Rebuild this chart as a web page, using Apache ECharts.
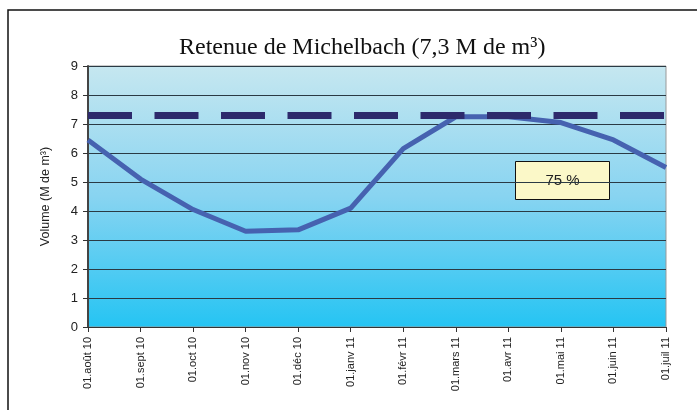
<!DOCTYPE html>
<html>
<head>
<meta charset="utf-8">
<script src="https://cdn.jsdelivr.net/npm/echarts@6/dist/echarts.min.js"></script>
<style>
  html, body { margin: 0; padding: 0; background: #fff; }
  #chart { width: 697px; height: 410px; }
</style>
</head>
<body>
<div id="chart"></div>
<script>
// dates (1st of each month)
const categories = ['01.août 10', '01.sept 10', '01.oct 10', '01.nov 10', '01.déc 10', '01.janv 11',
  '01.févr 11', '01.mars 11', '01.avr 11', '01.mai 11', '01.juin 11', '01.juil 11'];
// volume in M de m3
const volume = [6.45, 5.1, 4.05, 3.3, 3.35, 4.1, 6.15, 7.25, 7.25, 7.05, 6.45, 5.5];
const capacity = 7.3;
const fillLabel = '75 %';
const yTicks = [0, 1, 2, 3, 4, 5, 6, 7, 8, 9];

const chart = echarts.init(document.getElementById('chart'));

chart.setOption({
  animation: false,
  title: {
    text: 'Retenue de Michelbach (7,3 M de m³)',
    left: 174,
    top: 31,
    textStyle: { fontFamily: 'Liberation Serif', fontSize: 24, fontWeight: 'normal', color: '#111' }
  },
  grid: {
    left: 88, right: 31, top: 66, bottom: 83,
    show: true,
    borderColor: '#999',
    borderWidth: 1,
    backgroundColor: new echarts.graphic.LinearGradient(0, 0, 0, 1, [
      { offset: 0, color: '#c6e7f0' },
      { offset: 0.5, color: '#88d4f1' },
      { offset: 1, color: '#25c4f3' }
    ])
  },
  xAxis: {
    type: 'category',
    data: categories,
    boundaryGap: false,
    axisLine: { lineStyle: { color: '#333', width: 1 } },
    axisTick: { alignWithLabel: true, length: 5, lineStyle: { color: '#333' } },
    axisLabel: {
      rotate: 90, interval: 0, margin: 10,
      fontFamily: 'Liberation Sans', fontSize: 11, color: '#222'
    }
  },
  yAxis: {
    type: 'value',
    min: yTicks[0], max: yTicks[yTicks.length - 1], interval: 1,
    name: 'Volume (M de m³)',
    nameLocation: 'middle',
    nameRotate: 90,
    nameGap: 36,
    nameTextStyle: { fontFamily: 'Liberation Sans', fontSize: 12.5, color: '#222' },
    axisLine: { show: true, lineStyle: { color: '#444', width: 2 } },
    axisTick: { show: true, length: 5, lineStyle: { color: '#333' } },
    axisLabel: { fontFamily: 'Liberation Sans', fontSize: 13, color: '#222', margin: 10 },
    splitLine: { lineStyle: { color: '#2a3a44', width: 1 } }
  },
  series: [
    {
      type: 'line',
      data: volume,
      symbol: 'none',
      lineStyle: { color: '#4662b0', width: 5 },
      z: 3,
      markLine: {
        silent: true,
        symbol: 'none',
        label: { show: false },
        lineStyle: { color: '#2d2a6c', width: 7, type: [44, 22.5] },
        data: [{ yAxis: capacity }]
      }
    }
  ],
  graphic: [
    {
      type: 'rect',
      shape: { x: 8, y: 10, width: 720, height: 420 },
      style: { fill: 'none', stroke: '#111', lineWidth: 1.5 },
      silent: true
    },
    {
      type: 'group',
      left: 515, top: 161,
      children: [
        {
          type: 'rect',
          shape: { x: 0, y: 0, width: 94, height: 38 },
          style: { fill: '#fbf8c8', stroke: '#111', lineWidth: 1 }
        },
        {
          type: 'text',
          x: 47, y: 19,
          style: {
            text: fillLabel, align: 'center', verticalAlign: 'middle',
            font: '15px "Liberation Sans"', fill: '#222'
          }
        }
      ]
    }
  ]
});
</script>
</body>
</html>
